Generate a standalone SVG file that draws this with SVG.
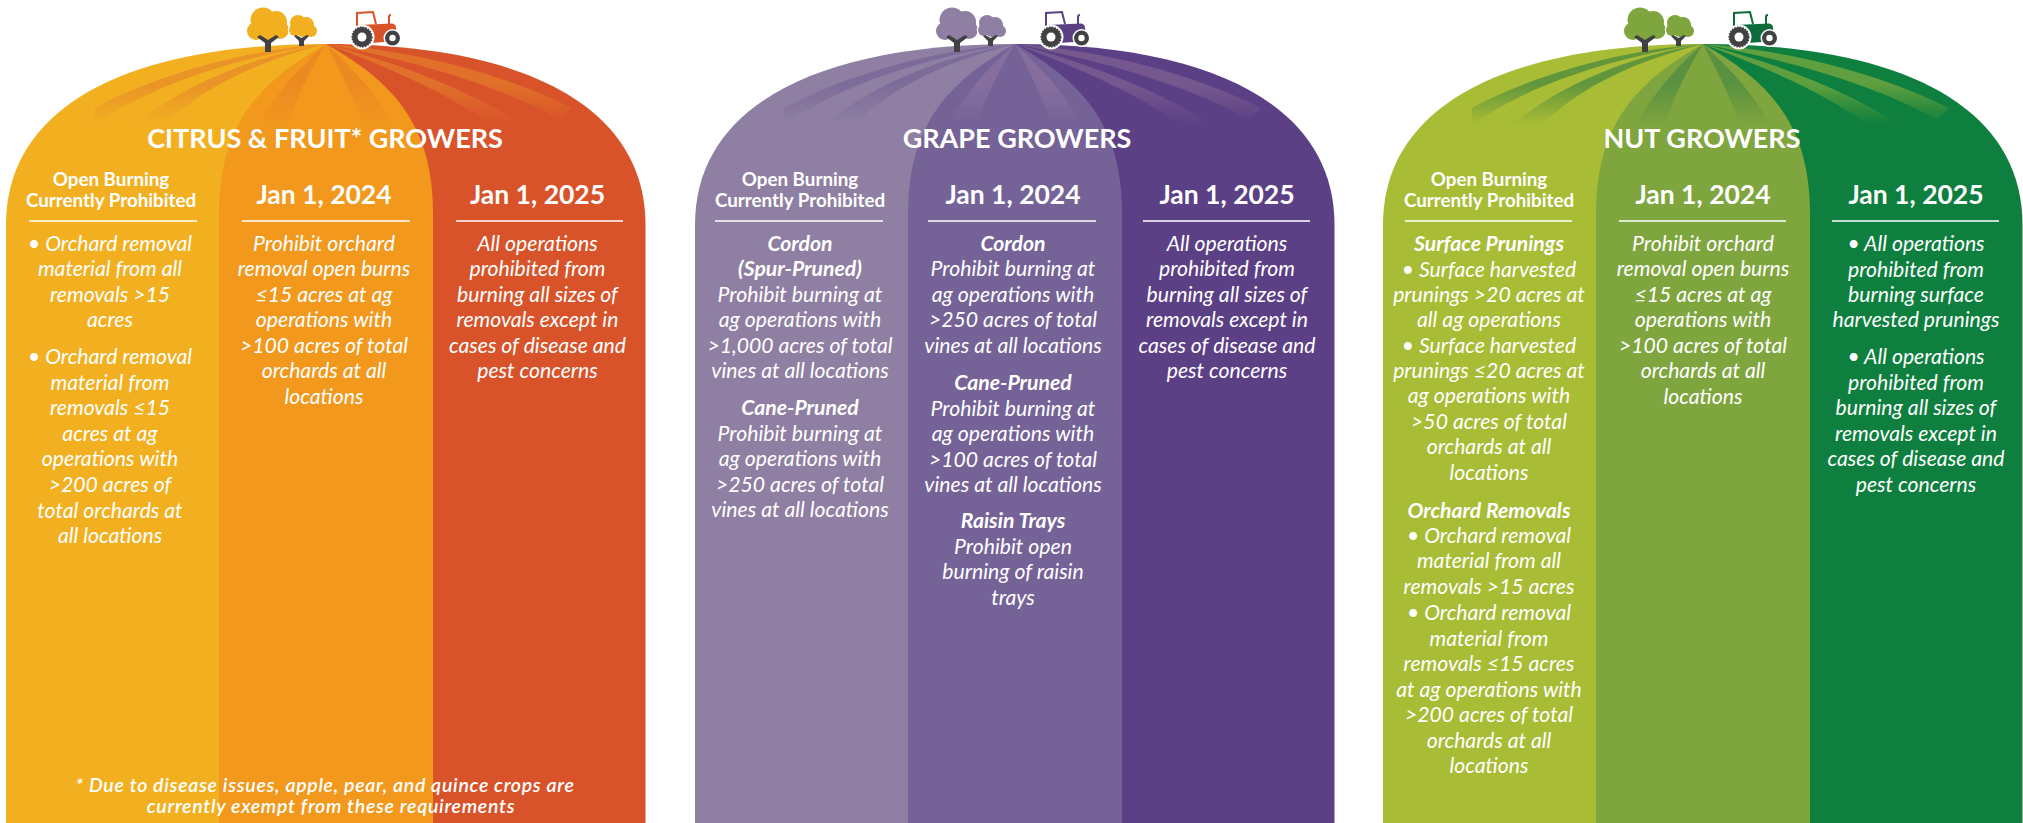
<svg xmlns="http://www.w3.org/2000/svg" width="2023" height="823" viewBox="0 0 2023 823">
<style>
text{font-family:Lato,"Liberation Sans",sans-serif;fill:#fff;text-anchor:middle}
.t{font-size:27px;font-weight:700}
.h{font-size:18.800px;font-weight:700}
.j{font-size:26.500px;font-weight:700}
.b{font-size:21.200px;font-style:italic;transform:translateY(1px)}
.s{font-size:21.200px;font-style:italic;font-weight:700;transform:translateY(1px)}
.f{font-size:19.500px;font-style:italic;font-weight:600;letter-spacing:.7px}
.r{stroke:#fff;stroke-width:1.4;fill:none}
.c1{fill:#f2b021}.c2{fill:#f1981d}.c3{fill:#d9532a}
.s1{fill:#ea9327}.s2{fill:#ec8a22}.s3{fill:#e0702a}
.c4{fill:#8f7fa3}.c5{fill:#756398}.c6{fill:#5c4085}
.s4{fill:#7d6c99}.s5{fill:#866f9f}.s6{fill:#76588f}
.c7{fill:#a8bc36}.c8{fill:#7fa53f}.c9{fill:#0e7f3e}
.s7{fill:#62963c}.s8{fill:#5a9140}.s9{fill:#5f9f3f}
.k{fill:#414042}
.w{fill:#fff}
.tire{fill:#414042;stroke:#414042;stroke-width:1.3;stroke-dasharray:1.4 1.4}
</style>
<defs>
<linearGradient id="fg" x1="0" y1="44" x2="0" y2="124" gradientUnits="userSpaceOnUse">
<stop offset="0" stop-color="#fff"/><stop offset=".5" stop-color="#fff"/><stop offset="1" stop-color="#000"/>
</linearGradient>
<mask id="fade" maskUnits="userSpaceOnUse" x="0" y="0" width="700" height="140"><rect width="700" height="140" fill="url(#fg)"/></mask>
<path id="dl" d="M6 823V225C6 105 130 44 326 44V823Z"/>
<path id="dr" d="M326 44C522 44 645.500 105 645.500 225V823H326Z"/>
<path id="dm" d="M219 823V215C219 130 253 85 326 44C399 85 433 130 433 215V823Z"/>
<path id="sl" d="M326 44C240 50 150 78 95 108L95 125C150 85 240 56 326 44ZM326 44C260 55 190 80 136 124L166 124C205 85 262 60 326 44Z"/>
<path id="sm" d="M326 44C295 70 272 100 256 130L286 130C295 100 310 70 326 44ZM326 44C340 70 355 100 364 130L395 130C382 100 355 70 326 44Z"/>
<path id="sr" d="M326 44C395 62 465 88 522 124L490 124C445 92 390 68 326 44ZM326 44C410 50 500 72 572 108L560 120C500 85 410 60 326 44Z"/>
<g id="bigcanopy"><circle cx="263" cy="20" r="12.500"/><circle cx="276" cy="22" r="11"/><circle cx="280" cy="30" r="9"/><circle cx="256" cy="31" r="9"/><circle cx="268" cy="27" r="13"/></g>
<g id="smallcanopy"><circle cx="298" cy="23" r="8"/><circle cx="306" cy="25" r="8"/><circle cx="311" cy="31" r="6"/><circle cx="295" cy="30" r="6"/><circle cx="303" cy="28" r="9"/></g>
<path id="trunks" d="M265 52V43L257 37L260 35L268 40L276 35L279 37L271 43V52ZM299 46V41L294 36L296 35L301.500 38L307 35L309 36L304 41V46Z"/>
<g id="wheels"><circle cx="362" cy="37" r="12.500" class="w"/><circle cx="392.500" cy="38" r="9" class="w"/><circle cx="362" cy="37" r="10" class="tire"/><circle cx="362" cy="37" r="4.500" class="w"/><circle cx="392.500" cy="38" r="7.500" class="k"/><circle cx="392.500" cy="38" r="3.200" class="w"/></g>
<path id="tbody" d="M354 30Q355 26 358 25L392 23.500Q396 24 396 28L397 33L385 42L370 43L356 32Z"/>
<path id="tcab" d="M357 26V13L373 12L376 24" fill="none" stroke-width="2" stroke="currentColor"/>
<path id="texh" d="M389 25V17Q389 15 391 15" fill="none" stroke-width="2" stroke="currentColor"/>
</defs>

<g id="citrus-shape">
<use href="#dl" class="c1"/><use href="#dr" class="c3"/><use href="#dm" class="c2"/>
<g mask="url(#fade)"><use href="#sl" class="s1"/><use href="#sm" class="s2"/><use href="#sr" class="s3"/></g>
<g id="citrus-trees"><use href="#bigcanopy" class="c1"/><use href="#smallcanopy" fill="#fff" stroke="#fff" stroke-width="2.500"/><use href="#smallcanopy" class="c1"/><use href="#trunks" class="k"/></g>
<g id="citrus-tractor" color="#d9532a"><use href="#tcab"/><use href="#texh"/><use href="#tbody" class="c3"/><use href="#wheels"/></g>
</g>

<g id="grape-shape" transform="translate(689 0)">
<use href="#dl" class="c4"/><use href="#dr" class="c6"/><use href="#dm" class="c5"/>
<g mask="url(#fade)"><use href="#sl" class="s4"/><use href="#sm" class="s5"/><use href="#sr" class="s6"/></g>
<g id="grape-trees"><use href="#bigcanopy" class="c4"/><use href="#smallcanopy" fill="#fff" stroke="#fff" stroke-width="2.500"/><use href="#smallcanopy" class="c4"/><use href="#trunks" class="k"/></g>
<g id="grape-tractor" color="#5c4085"><use href="#tcab"/><use href="#texh"/><use href="#tbody" class="c6"/><use href="#wheels"/></g>
</g>

<g id="nut-shape" transform="translate(1377 0)">
<use href="#dl" class="c7"/><use href="#dr" class="c9"/><use href="#dm" class="c8"/>
<g mask="url(#fade)"><use href="#sl" class="s7"/><use href="#sm" class="s8"/><use href="#sr" class="s9"/></g>
<g id="nut-trees"><use href="#bigcanopy" class="c8"/><use href="#smallcanopy" fill="#fff" stroke="#fff" stroke-width="2.500"/><use href="#smallcanopy" class="c8"/><use href="#trunks" class="k"/></g>
<g id="nut-tractor" color="#0c6b39"><use href="#tcab"/><use href="#texh"/><use href="#tbody" fill="#0c6b39"/><use href="#wheels"/></g>
</g>

<g id="citrus-text">
<text class="t" x="325" y="148">CITRUS &amp; FRUIT* GROWERS</text>
<text class="h" x="111" y="186">Open Burning</text><text class="h" x="111" y="207">Currently Prohibited</text>
<text class="j" x="324" y="204">Jan 1, 2024</text><text class="j" x="537.500" y="204">Jan 1, 2025</text>
<path class="r" d="M29 221H197M242 221H410M456 221H623"/>
<text class="b" x="110" y="250">• Orchard removal</text><text class="b" x="110" y="275">material from all</text><text class="b" x="110" y="301">removals &gt;15</text><text class="b" x="110" y="326">acres</text>
<text class="b" x="110" y="363">• Orchard removal</text><text class="b" x="110" y="389">material from</text><text class="b" x="110" y="414">removals ≤15</text><text class="b" x="110" y="440">acres at ag</text><text class="b" x="110" y="465">operations with</text><text class="b" x="110" y="491">&gt;200 acres of</text><text class="b" x="110" y="517">total orchards at</text><text class="b" x="110" y="542">all locations</text>
<text class="b" x="324" y="250">Prohibit orchard</text><text class="b" x="324" y="275">removal open burns</text><text class="b" x="324" y="301">≤15 acres at ag</text><text class="b" x="324" y="326">operations with</text><text class="b" x="324" y="352">&gt;100 acres of total</text><text class="b" x="324" y="377">orchards at all</text><text class="b" x="324" y="403">locations</text>
<text class="b" x="537.500" y="250">All operations</text><text class="b" x="537.500" y="275">prohibited from</text><text class="b" x="537.500" y="301">burning all sizes of</text><text class="b" x="537.500" y="326">removals except in</text><text class="b" x="537.500" y="352">cases of disease and</text><text class="b" x="537.500" y="377">pest concerns</text>
<text class="f" x="325" y="792">* Due to disease issues, apple, pear, and quince crops are</text><text class="f" x="331" y="813">currently exempt from these requirements</text>
</g>

<g id="grape-text">
<text class="t" x="1017" y="148">GRAPE GROWERS</text>
<text class="h" x="800" y="186">Open Burning</text><text class="h" x="800" y="207">Currently Prohibited</text>
<text class="j" x="1013" y="204">Jan 1, 2024</text><text class="j" x="1227" y="204">Jan 1, 2025</text>
<path class="r" d="M715 221H883M928 221H1096M1143 221H1310"/>
<text class="s" x="800" y="250">Cordon</text><text class="s" x="800" y="275">(Spur-Pruned)</text><text class="b" x="800" y="301">Prohibit burning at</text><text class="b" x="800" y="326">ag operations with</text><text class="b" x="800" y="352">&gt;1,000 acres of total</text><text class="b" x="800" y="377">vines at all locations</text>
<text class="s" x="800" y="414">Cane-Pruned</text><text class="b" x="800" y="440">Prohibit burning at</text><text class="b" x="800" y="465">ag operations with</text><text class="b" x="800" y="491">&gt;250 acres of total</text><text class="b" x="800" y="516">vines at all locations</text>
<text class="s" x="1013" y="250">Cordon</text><text class="b" x="1013" y="275">Prohibit burning at</text><text class="b" x="1013" y="301">ag operations with</text><text class="b" x="1013" y="326">&gt;250 acres of total</text><text class="b" x="1013" y="352">vines at all locations</text>
<text class="s" x="1013" y="389">Cane-Pruned</text><text class="b" x="1013" y="415">Prohibit burning at</text><text class="b" x="1013" y="440">ag operations with</text><text class="b" x="1013" y="466">&gt;100 acres of total</text><text class="b" x="1013" y="491">vines at all locations</text>
<text class="s" x="1013" y="527">Raisin Trays</text><text class="b" x="1013" y="553">Prohibit open</text><text class="b" x="1013" y="578">burning of raisin</text><text class="b" x="1013" y="604">trays</text>
<text class="b" x="1227" y="250">All operations</text><text class="b" x="1227" y="275">prohibited from</text><text class="b" x="1227" y="301">burning all sizes of</text><text class="b" x="1227" y="326">removals except in</text><text class="b" x="1227" y="352">cases of disease and</text><text class="b" x="1227" y="377">pest concerns</text>
</g>

<g id="nut-text">
<text class="t" x="1702" y="148">NUT GROWERS</text>
<text class="h" x="1489" y="186">Open Burning</text><text class="h" x="1489" y="207">Currently Prohibited</text>
<text class="j" x="1703" y="204">Jan 1, 2024</text><text class="j" x="1916" y="204">Jan 1, 2025</text>
<path class="r" d="M1405 221H1572M1619 221H1786M1832 221H1999"/>
<text class="s" x="1489" y="250">Surface Prunings</text><text class="b" x="1489" y="276">• Surface harvested</text><text class="b" x="1489" y="301">prunings &gt;20 acres at</text><text class="b" x="1489" y="326">all ag operations</text><text class="b" x="1489" y="352">• Surface harvested</text><text class="b" x="1489" y="377">prunings ≤20 acres at</text><text class="b" x="1489" y="402">ag operations with</text><text class="b" x="1489" y="428">&gt;50 acres of total</text><text class="b" x="1489" y="453">orchards at all</text><text class="b" x="1489" y="479">locations</text>
<text class="s" x="1489" y="517">Orchard Removals</text><text class="b" x="1489" y="542">• Orchard removal</text><text class="b" x="1489" y="567">material from all</text><text class="b" x="1489" y="593">removals &gt;15 acres</text><text class="b" x="1489" y="619">• Orchard removal</text><text class="b" x="1489" y="645">material from</text><text class="b" x="1489" y="670">removals ≤15 acres</text><text class="b" x="1489" y="696">at ag operations with</text><text class="b" x="1489" y="721">&gt;200 acres of total</text><text class="b" x="1489" y="747">orchards at all</text><text class="b" x="1489" y="772">locations</text>
<text class="b" x="1703" y="250">Prohibit orchard</text><text class="b" x="1703" y="275">removal open burns</text><text class="b" x="1703" y="301">≤15 acres at ag</text><text class="b" x="1703" y="326">operations with</text><text class="b" x="1703" y="352">&gt;100 acres of total</text><text class="b" x="1703" y="377">orchards at all</text><text class="b" x="1703" y="403">locations</text>
<text class="b" x="1916" y="250">• All operations</text><text class="b" x="1916" y="276">prohibited from</text><text class="b" x="1916" y="301">burning surface</text><text class="b" x="1916" y="326">harvested prunings</text><text class="b" x="1916" y="363">• All operations</text><text class="b" x="1916" y="389">prohibited from</text><text class="b" x="1916" y="414">burning all sizes of</text><text class="b" x="1916" y="440">removals except in</text><text class="b" x="1916" y="465">cases of disease and</text><text class="b" x="1916" y="491">pest concerns</text>
</g>
</svg>
